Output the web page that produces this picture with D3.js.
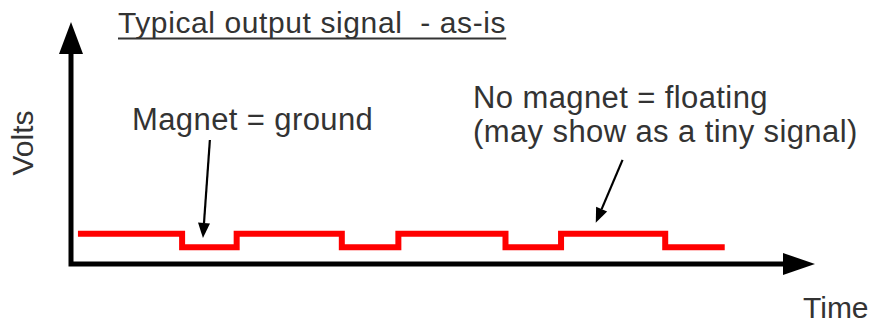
<!DOCTYPE html>
<html>
<head>
<meta charset="utf-8">
<script src="https://cdn.jsdelivr.net/npm/d3@7"></script>
<style>
  html, body { margin: 0; padding: 0; background: #fff; }
  svg { display: block; }
  text { font-family: "Liberation Sans", Arial, sans-serif; fill: #333; white-space: pre; }
</style>
</head>
<body>
<svg id="chart" width="871" height="325"></svg>
<script>
// Output signal: time at each transition and the voltage level held from it
const times  = [0.7, 11.2, 16.7, 27.3, 33.0, 43.8, 49.4, 59.9, 65.9];
const levels = [1.0, 0.55, 1.0, 0.55, 1.0, 0.55, 1.0, 0.55, 0.55];

// Axis extents (arbitrary units)
const timeDomain = [0, 75];
const voltDomain = [0, 8];

// Callouts: label lines and the point each arrow runs from / to (data units)
const calloutLabels = [
  ["Magnet = ground"],
  ["No magnet = floating", "(may show as a tiny signal)"]
];
const calloutFrom = [[14.0, 4.1], [55.6, 3.44]];
const calloutTo   = [[13.3, 0.86], [52.9, 1.36]];

const titleText = "Typical output signal  - as-is";
const xLabel = "Time";
const yLabel = "Volts";

const svg = d3.select("#chart");

const x = d3.scaleLinear().domain(timeDomain).range([71, 815]);
const y = d3.scaleLinear().domain(voltDomain).range([264, 22]);

// Title with underline
const title = svg.append("text")
  .attr("x", 118).attr("y", 33)
  .style("font-size", "30px")
  .style("letter-spacing", "0.6px")
  .text(titleText);
const tb = title.node().getBBox();
svg.append("line")
  .attr("x1", tb.x).attr("x2", tb.x + tb.width)
  .attr("y1", 38.5).attr("y2", 38.5)
  .attr("stroke", "#333").attr("stroke-width", 2);

// Axes: an L-shaped frame with arrowheads
const x0 = x(timeDomain[0]), x1 = x(timeDomain[1]);
const y0 = y(voltDomain[0]), y1 = y(voltDomain[1]);
const headLen = 32, headHalf = 12;

svg.append("path")
  .attr("d", `M${x0},${y1 + headLen - 2} V${y0} H${x1 - headLen + 2}`)
  .attr("fill", "none")
  .attr("stroke", "#000")
  .attr("stroke-width", 5)
  .attr("stroke-linejoin", "miter")
  .attr("stroke-linecap", "square");

svg.append("path")
  .attr("d", `M${x0},${y1} L${x0 - headHalf},${y1 + headLen} L${x0 + headHalf},${y1 + headLen} Z`)
  .attr("fill", "#000");
svg.append("path")
  .attr("d", `M${x1},${y0} L${x1 - headLen},${y0 - 11} L${x1 - headLen},${y0 + 11} Z`)
  .attr("fill", "#000");

// Signal trace
const signal = times.map((t, i) => ({ t, v: levels[i] }));
const line = d3.line()
  .x(d => x(d.t))
  .y(d => y(d.v))
  .curve(d3.curveStepAfter);

svg.append("path")
  .datum(signal)
  .attr("d", line)
  .attr("fill", "none")
  .attr("stroke", "#ff0000")
  .attr("stroke-width", 6)
  .attr("stroke-linejoin", "miter")
  .attr("stroke-linecap", "butt");

// Axis labels
svg.append("text")
  .attr("x", 803).attr("y", 318)
  .style("font-size", "30px")
  .text(xLabel);

svg.append("text")
  .attr("transform", "translate(33,143) rotate(-90)")
  .attr("text-anchor", "middle")
  .style("font-size", "30px")
  .text(yLabel);

// Callout labels
const labelPos = [[132, 130], [473, 108]];
calloutLabels.forEach((lines, i) => {
  const t = svg.append("text")
    .attr("x", labelPos[i][0]).attr("y", labelPos[i][1])
    .style("font-size", "31px")
    .style("letter-spacing", "0.4px");
  lines.forEach((s, j) => {
    t.append("tspan")
      .attr("x", labelPos[i][0])
      .attr("dy", j === 0 ? 0 : 34)
      .text(s);
  });
});

// Callout arrows
calloutFrom.forEach((from, i) => {
  const to = calloutTo[i];
  const fx = x(from[0]), fy = y(from[1]);
  const tx = x(to[0]),   ty = y(to[1]);
  const ang = Math.atan2(ty - fy, tx - fx);
  const len = 15, half = 6;
  const bx = tx - len * Math.cos(ang), by = ty - len * Math.sin(ang);
  const px = -Math.sin(ang) * half, py = Math.cos(ang) * half;
  svg.append("line")
    .attr("x1", fx).attr("y1", fy)
    .attr("x2", bx).attr("y2", by)
    .attr("stroke", "#000").attr("stroke-width", 2.2);
  svg.append("path")
    .attr("d", `M${tx},${ty} L${bx + px},${by + py} L${bx - px},${by - py} Z`)
    .attr("fill", "#000");
});
</script>
</body>
</html>
